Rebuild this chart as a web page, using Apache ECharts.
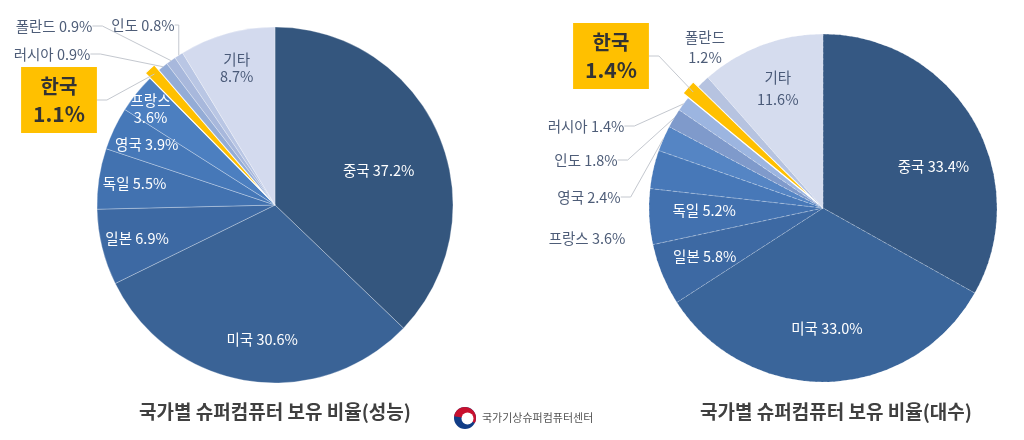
<!DOCTYPE html>
<html>
<head>
<meta charset="utf-8">
<script src="https://cdn.jsdelivr.net/npm/echarts@6/dist/echarts.min.js"></script>
<style>html,body{margin:0;padding:0;background:#fff}#c{width:1024px;height:440px}</style>
</head>
<body>
<div id="c"></div>
<script>
// ---- data ----
const catL = ['중국','미국','일본','독일','영국','프랑스','한국','러시아','폴란드','인도','기타'];
const valL = [37.2, 30.6, 6.9, 5.5, 3.9, 3.6, 1.1, 0.9, 0.9, 0.8, 8.7];
const catR = ['중국','미국','일본','독일','프랑스','영국','인도','러시아','한국','폴란드','기타'];
const valR = [33.4, 33.0, 5.8, 5.2, 3.6, 2.4, 1.8, 1.4, 1.4, 1.2, 11.6];
const titleL = '국가별 슈퍼컴퓨터 보유 비율(성능)';
const titleR = '국가별 슈퍼컴퓨터 보유 비율(대수)';
const orgName = '국가기상슈퍼컴퓨터센터';
const highlight = '한국';

// ---- styles / layout ----
const FONT = '"Noto Sans CJK KR", "Noto Sans", sans-serif';
const colorsL = {'중국':'#34567e','미국':'#3a6396','일본':'#3d69a3','독일':'#4272b0','영국':'#4678b8','프랑스':'#4c7fc0','한국':'#ffc000','러시아':'#94acd6','폴란드':'#a8b8dc','인도':'#b9c6e4','기타':'#d3daee'};
const colorsR = {'중국':'#355883','미국':'#3a659a','일본':'#3d69a3','독일':'#4271af','프랑스':'#4778b8','영국':'#5585c4','인도':'#7f9acb','러시아':'#9cb5e0','한국':'#ffc000','폴란드':'#b6c3e0','기타':'#d5dcee'};
const L = {center:[275,205], r:178, labelRing:[100,178], dash:'solid'};
const R = {center:[823,208], r:174, labelRing:[76,174], dash:'dashed'};
// outside label placements (label centres)
const outL = {'인도':[143,25], '폴란드':[54,26], '러시아':[52,54], '한국':[59,100]};
const outR = {'러시아':[586,126], '인도':[586,160], '영국':[589,197], '프랑스':[587,238], '한국':[611,56], '폴란드':[705,47]};
const noLineL = [];
const noLineR = ['프랑스','폴란드'];
// inside label nudges
const nudgeL = {'중국':[-27,21], '프랑스':[-14,-7], '미국':[9,-6]};
const nudgeR = {'중국':[0,23], '미국':[0,-7], '독일':[9,-4]};
const twoLineL = ['프랑스','기타'];
const twoLineR = ['기타','폴란드'];
const darkTextCats = ['기타'];
const FS = 14.5;

function fmtVal(v){ return v.toFixed(1) + '%'; }

function buildMain(cats, vals, colors){
  return cats.map((c,i)=>{
    const d = {name:c, value:vals[i], itemStyle:{color:colors[c]}};
    if (c === highlight) {
      d.selected = true;
      d.itemStyle.borderColor = '#ffffff';
      d.itemStyle.borderWidth = 1.2;
      d.itemStyle.borderType = 'solid';
    }
    return d;
  });
}

function buildLabels(cats, vals, out, twoLine, noLine){
  return cats.map((c,i)=>{
    const d = {name:c, value:vals[i], itemStyle:{color:'rgba(0,0,0,0)'}};
    const text = twoLine.indexOf(c) >= 0 ? c + '\n' + fmtVal(vals[i]) : c + ' ' + fmtVal(vals[i]);
    if (out[c]) {
      const isHi = c === highlight;
      d.label = {
        show:true, position:'outside',
        formatter: isHi ? ('{a|' + c + '}\n{b|' + fmtVal(vals[i]) + '}') : text,
        color:'#4e5d78', fontSize:FS, fontFamily:FONT, lineHeight:20,
        backgroundColor: isHi ? '#ffc000' : 'transparent',
        padding: isHi ? [5,12,5,12] : 0,
        rich: isHi ? {
          a:{fontSize:20, fontWeight:'bold', color:'#333', fontFamily:FONT, lineHeight:28, align:'center'},
          b:{fontSize:21, fontWeight:'bold', color:'#333', fontFamily:FONT, lineHeight:28, align:'center'}
        } : undefined
      };
      d.labelLine = {show: noLine.indexOf(c) < 0, length:8, length2:10,
        lineStyle:{color:'#c4c8cf', width:1}};
    } else {
      d.label = {
        show:true, position:'inside',
        formatter: text,
        color: darkTextCats.indexOf(c) >= 0 ? '#4a5a78' : '#ffffff'
      };
      d.labelLine = {show:false};
    }
    return d;
  });
}

function mainSeries(cats, vals, colors, cfg){
  return {
    type:'pie', center:cfg.center, radius:[0,cfg.r], startAngle:90, clockwise:true,
    selectedMode:'single', selectedOffset:7, silent:true,
    emphasis:{disabled:true}, select:{itemStyle:{borderColor:'#ffffff', borderWidth:1.2}},
    itemStyle:{borderColor:'rgba(255,255,255,0.28)', borderWidth:1, borderType:cfg.dash},
    label:{show:false},
    labelLine:{show:false},
    data: buildMain(cats, vals, colors)
  };
}

function labelSeries(cats, vals, cfg, out, twoLine, noLine, nudge, lh){
  return {
    type:'pie', center:cfg.center, radius:cfg.labelRing, startAngle:90, clockwise:true,
    silent:true, avoidLabelOverlap:false, emphasis:{disabled:true}, z:5,
    itemStyle:{borderWidth:0},
    label:{show:true, fontSize:FS, fontFamily:FONT, lineHeight:lh},
    labelLayout: function(p){
      const c = cats[p.dataIndex];
      if (out[c]) return {x:out[c][0], y:out[c][1], align:'center', verticalAlign:'middle'};
      const n = nudge[c];
      if (n) return {dx:n[0], dy:n[1]};
    },
    data: buildLabels(cats, vals, out, twoLine, noLine)
  };
}

const chart = echarts.init(document.getElementById('c'), null, {renderer:'canvas'});
chart.setOption({
  animation:false,
  backgroundColor:'#ffffff',
  series:[
    mainSeries(catL, valL, colorsL, L),
    labelSeries(catL, valL, L, outL, twoLineL, noLineL, nudgeL, 17),
    mainSeries(catR, valR, colorsR, R),
    labelSeries(catR, valR, R, outR, twoLineR, noLineR, nudgeR, 22)
  ],
  graphic:[
    {type:'text', x:275, y:412, style:{text:titleL, align:'center', verticalAlign:'middle', textAlign:'center', textVerticalAlign:'middle', fontSize:19, fontWeight:'bold', fontFamily:FONT, fill:'#404040'}},
    {type:'text', x:836, y:412, style:{text:titleR, align:'center', verticalAlign:'middle', textAlign:'center', textVerticalAlign:'middle', fontSize:19, fontWeight:'bold', fontFamily:FONT, fill:'#404040'}},
    {type:'group', x:465, y:418, children:[
      {type:'circle', shape:{cx:0, cy:0, r:11}, style:{fill:'#113d86'}},
      {type:'sector', shape:{cx:0, cy:0, r:11, r0:0, startAngle:Math.PI*1.05, endAngle:Math.PI*2.15}, style:{fill:'#c8102e'}},
      {type:'circle', shape:{cx:2.5, cy:0.5, r:6}, style:{fill:'#ffffff'}}
    ]},
    {type:'text', x:482, y:418, style:{text:orgName, align:'left', verticalAlign:'middle', textAlign:'left', textVerticalAlign:'middle', fontSize:11, fontFamily:FONT, fill:'#555555'}}
  ]
});
</script>
</body>
</html>
